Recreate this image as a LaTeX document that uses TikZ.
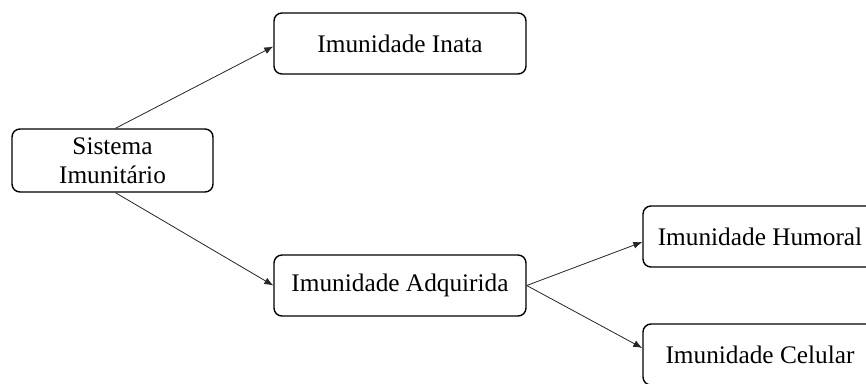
\documentclass[tikz,border=0pt]{standalone}
\usepackage{fontspec}
\setmainfont{Liberation Serif}
\usetikzlibrary{arrows.meta}
\begin{document}
\begin{tikzpicture}[x=1pt,y=-1pt,
  box/.style={draw=black, line width=1.4pt, rounded corners=8pt, fill=white,
    inner sep=0pt, align=center,
    font=\fontsize{25.3}{29}\selectfont},
  link/.style={draw=black!85, line width=0.8pt, -{Latex[length=9pt,width=7pt]}}]
  \clip (0,0) rectangle (866,383);
  \fill[white] (0,0) rectangle (866,383);

  \node[box, minimum width=201pt, minimum height=63pt] (sis) at (112.5,160.5) {Sistema\\Imunitário};
  \node[box, minimum width=252pt, minimum height=61pt] (inata) at (400,43.5) {Imunidade Inata};
  \node[box, minimum width=252pt, minimum height=61pt] (adq) at (400,285.5) {Imunidade Adquirida};
  \node[box, minimum width=234pt, minimum height=61pt] (hum) at (760,236.5) {Imunidade Humoral};
  \node[box, minimum width=234pt, minimum height=61pt] (cel) at (760,354.5) {Imunidade Celular};

  \draw[link] ([xshift=3pt]sis.north) -- ([yshift=-3pt]inata.west);
  \draw[link] ([xshift=3pt]sis.south) -- (adq.west);
  \draw[link] (adq.east) -- ([yshift=-5.5pt]hum.west);
  \draw[link] (adq.east) -- ([yshift=6.5pt]cel.west);
\end{tikzpicture}
\end{document}
